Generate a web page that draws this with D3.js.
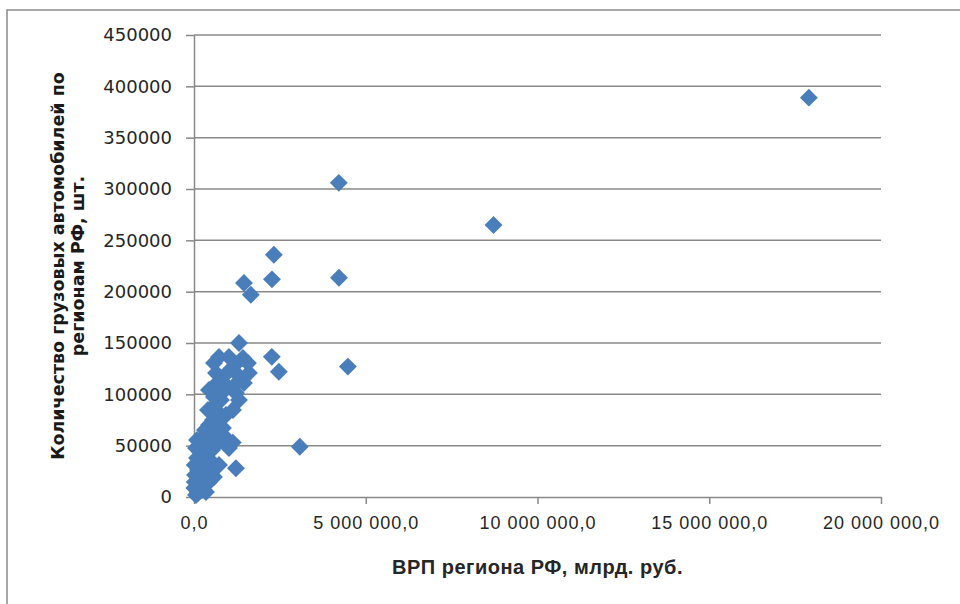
<!DOCTYPE html>
<html>
<head>
<meta charset="utf-8">
<script src="https://cdn.jsdelivr.net/npm/d3@7"></script>
<style>
  body { margin: 0; background: #ffffff; }
  .axisGray path, .axisGray line { stroke: #898989; stroke-width: 1.5; }
  .axisGray text { fill: #262626; }
</style>
</head>
<body>
<script>
// ВРП региона (по шкале графика) и количество грузовиков
const grp = [
  17900000, 8720000, 4215000, 4220000, 4480000, 2325000, 2270000, 1455000, 1655000, 2265000,
  2470000, 3080000, 1310000, 1220000, 1130000,
  727000, 1017000, 1424000, 1570000, 1599000, 1453000, 1134000, 843000, 640000, 581000,
  436000, 581000, 552000, 727000, 1134000, 1308000, 1221000, 843000,
  727000, 436000, 262000, 58000, 20000, 20000, 58000, 349000, 436000, 262000,
  349000, 640000, 930000, 843000, 552000, 1017000, 727000, 581000,
  145000, 116000, 174000, 233000, 87000, 320000, 174000, 465000, 29000, 203000,
  378000, 523000, 698000, 930000, 552000, 785000, 988000, 1279000, 1192000, 116000,
  10000, 290000, 494000, 407000, 610000, 87000, 262000
];
const trucks = [
  389000, 265000, 306000, 213500, 127000, 236000, 212000, 208500, 197000, 136500,
  122000, 49000, 150000, 28000, 53000,
  136400, 136400, 135400, 130500, 120800, 111000, 107100, 112000, 120800, 130500,
  104200, 97400, 87700, 81800, 84700, 94500, 101300, 102300,
  76900, 70100, 57500, 47700, 31200, 14600, 1900, 4900, 14600, 24400,
  40900, 50600, 57500, 67200, 60400, 47700, 31200, 19500,
  36000, 26300, 11700, 6800, 55500, 65300, 43800, 36000, 21400, 18500,
  28200, 45800, 62300, 79900, 75000, 94500, 121700, 118800, 128600, 3900,
  8800, 50600, 55500, 84700, 109000, 38000, 34000
];
const xTicks = [0, 5000000, 10000000, 15000000, 20000000];
const yTicks = [0, 50000, 100000, 150000, 200000, 250000, 300000, 350000, 400000, 450000];

const margin = { top: 35, left: 194 };
const width = 687;
const height = 462;

const svg = d3.select("body")
  .append("svg")
  .attr("width", 960)
  .attr("height", 604);

// рамка области диаграммы (правый и нижний край обрезаны)
svg.append("path")
  .attr("d", "M7,604 L7,10 L960,10")
  .attr("fill", "none")
  .attr("stroke", "#8a8a8a")
  .attr("stroke-width", 1.5);

const g = svg.append("g")
  .attr("transform", `translate(${margin.left}, ${margin.top})`);

let xScale = d3.scaleLinear([0, 20000000], [0, width]);
let yScale = d3.scaleLinear([0, 450000], [height, 0]);

const ru = d3.formatLocale({ decimal: ",", thousands: "\u00a0", grouping: [3], currency: ["", ""] });

// gridlines
g.append("g")
  .selectAll("line")
  .data(yTicks.slice(1))
  .join("line")
  .attr("x1", 0)
  .attr("x2", width)
  .attr("y1", d => yScale(d))
  .attr("y2", d => yScale(d))
  .attr("stroke", "#898989")
  .attr("stroke-width", 1.5);

// Axis
let xAxis = d3.axisBottom(xScale)
  .tickValues(xTicks)
  .tickSize(7)
  .tickSizeOuter(0)
  .tickPadding(12)
  .tickFormat(ru.format(",.1f"));
let yAxis = d3.axisLeft(yScale)
  .tickValues(yTicks)
  .tickSize(8)
  .tickSizeOuter(0)
  .tickPadding(14)
  .tickFormat(d3.format("d"));

g.append("g")
  .attr("class", "axisGray")
  .attr("transform", `translate(0,${height})`)
  .call(xAxis)
  .selectAll("text")
  .style("font-family", "'Liberation Sans', Arial, sans-serif")
  .style("font-size", "18px")
  .style("letter-spacing", "1px");

g.append("g")
  .attr("class", "axisGray")
  .call(yAxis)
  .selectAll("text")
  .style("font-family", "'DejaVu Sans', Verdana, sans-serif")
  .style("font-size", "18px");

// points
const data = grp.map((x, i) => [x, trucks[i]]);
const diamond = d3.symbol(d3.symbolSquare, 160);
g.append("g")
  .selectAll("path")
  .data(data)
  .join("path")
  .attr("d", diamond)
  .attr("transform", d => `translate(${xScale(d[0])},${yScale(d[1])}) rotate(45)`)
  .attr("fill", "#4a7ebb");

// Axis label
svg.append("text")
  .attr("text-anchor", "middle")
  .attr("x", margin.left + width / 2)
  .attr("y", 574)
  .style("font-family", "'Liberation Sans', Arial, sans-serif")
  .style("font-size", "20px")
  .style("font-weight", "bold")
  .style("letter-spacing", "0.5px")
  .style("fill", "#262626")
  .text("ВРП региона РФ, млрд. руб.");

const yTitle = svg.append("text")
  .attr("text-anchor", "middle")
  .attr("transform", "translate(0,266) rotate(-90)")
  .style("font-family", "'DejaVu Sans', Verdana, sans-serif")
  .style("font-size", "17.5px")
  .style("font-weight", "bold")
  .style("fill", "#1a1a1a");
yTitle.append("tspan").attr("x", 0).attr("y", 64).text("Количество  грузовых автомобилей  по");
yTitle.append("tspan").attr("x", 0).attr("y", 84).text("регионам РФ, шт.");
</script>
</body>
</html>
